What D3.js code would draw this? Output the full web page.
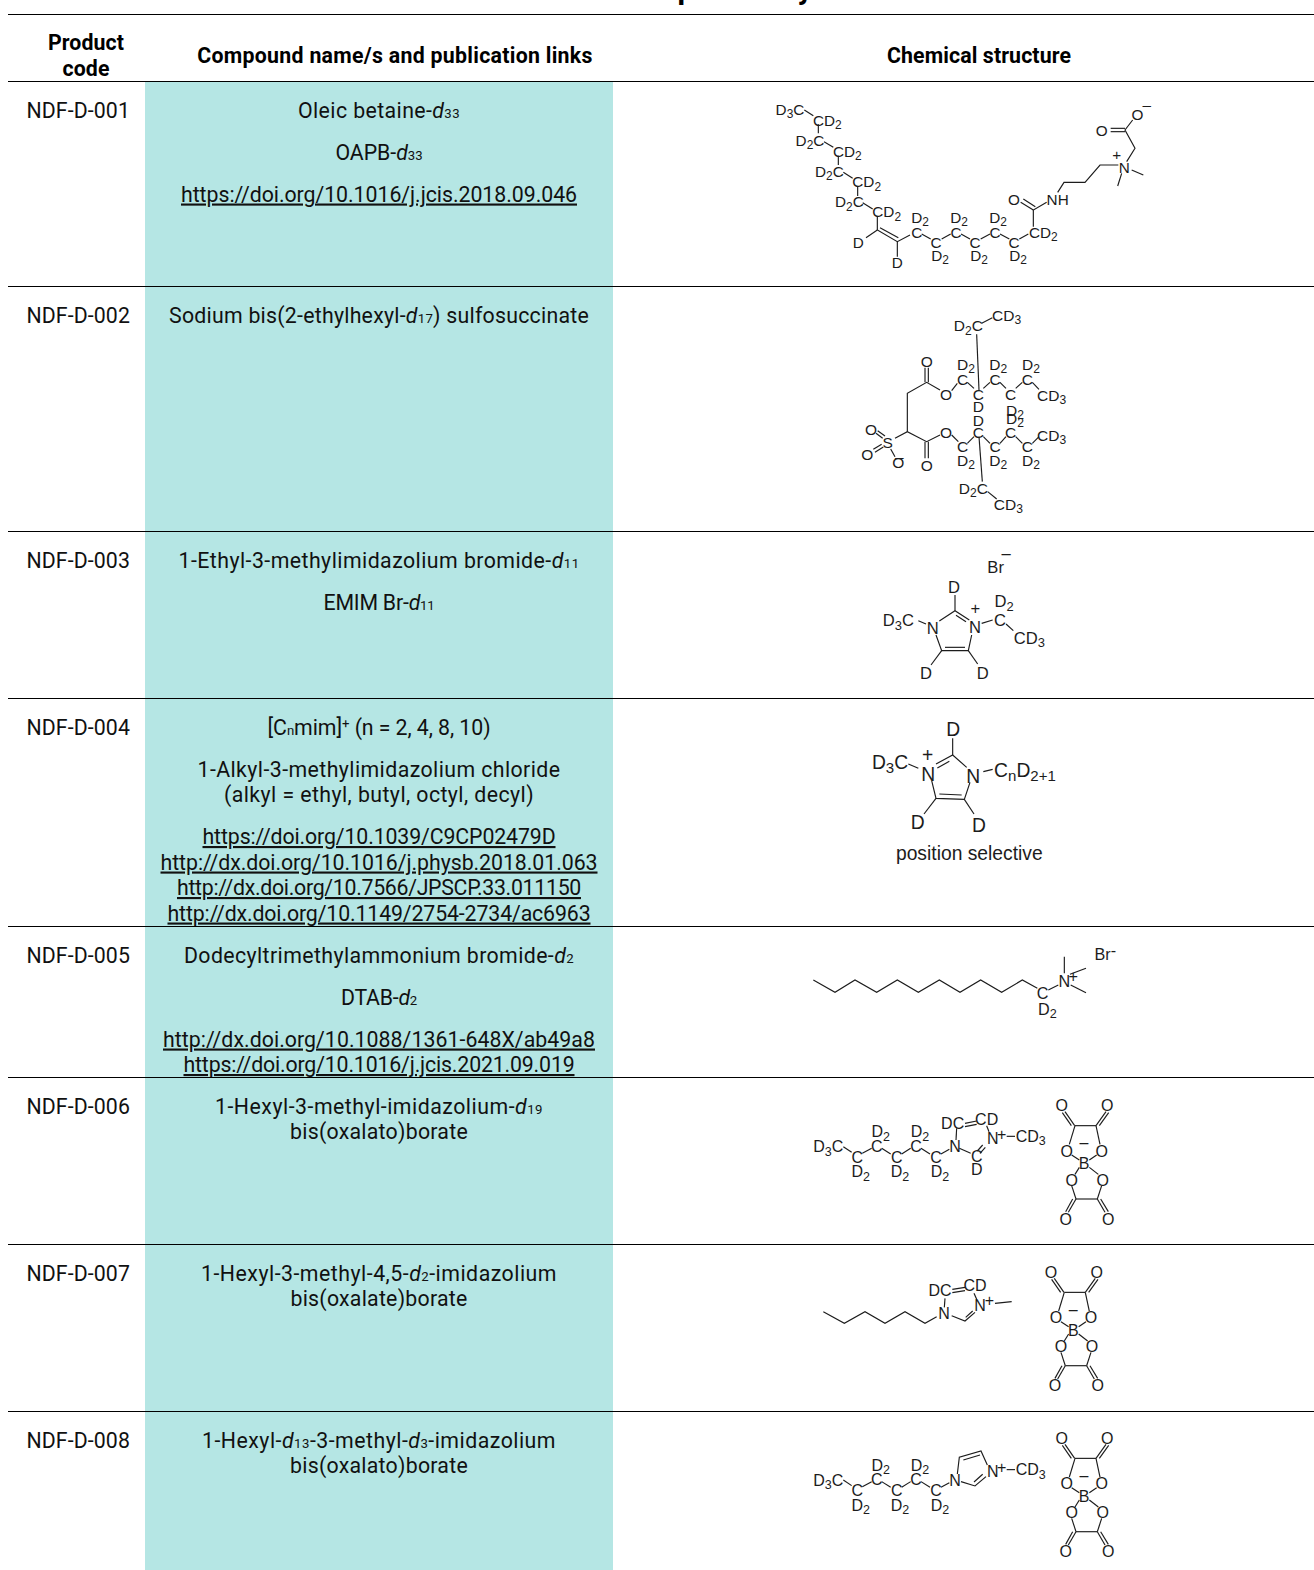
<!DOCTYPE html>
<html>
<head>
<meta charset="utf-8">
<script src="https://d3js.org/d3.v7.min.js"></script>
<style>
    body { margin: 0; background: #fff; }
    svg { display: block; }
    .cell { font-family: Roboto, sans-serif; font-size: 21.3px; fill: #111; }
    .head { font-family: Roboto, sans-serif; font-size: 21.3px; font-weight: 700; fill: #000; }
    .atom { font-family: "Liberation Sans", Arial, sans-serif; fill: #1c1c1c; }
    .bond { fill: none; stroke: #1c1c1c; stroke-width: 1.15; }
</style>
</head>
<body>
<div id="chart"></div>
<script>
// Self invoking function
(function() {

    // Table text. *x* = italic, ~x~ = subscript, ^x^ = superscript, _x_ = link
    var codes = ["NDF-D-001", "NDF-D-002", "NDF-D-003", "NDF-D-004", "NDF-D-005", "NDF-D-006", "NDF-D-007", "NDF-D-008"];

    // One list per row, each paragraph is a list of lines
    var names = [
        [["Oleic betaine-*d*~33~"], ["OAPB-*d*~33~"], ["_https://doi.org/10.1016/j.jcis.2018.09.046_"]],
        [["Sodium bis(2-ethylhexyl-*d*~17~) sulfosuccinate"]],
        [["1-Ethyl-3-methylimidazolium bromide-*d*~11~"], ["EMIM Br-*d*~11~"]],
        [["[C~n~mim]^+^ (n = 2, 4, 8, 10)"],
         ["1-Alkyl-3-methylimidazolium chloride", "(alkyl = ethyl, butyl, octyl, decyl)"],
         ["_https://doi.org/10.1039/C9CP02479D_", "_http://dx.doi.org/10.1016/j.physb.2018.01.063_", "_http://dx.doi.org/10.7566/JPSCP.33.011150_", "_http://dx.doi.org/10.1149/2754-2734/ac6963_"]],
        [["Dodecyltrimethylammonium bromide-*d*~2~"], ["DTAB-*d*~2~"],
         ["_http://dx.doi.org/10.1088/1361-648X/ab49a8_", "_https://doi.org/10.1016/j.jcis.2021.09.019_"]],
        [["1-Hexyl-3-methyl-imidazolium-*d*~19~", "bis(oxalato)borate"]],
        [["1-Hexyl-3-methyl-4,5-*d*~2~-imidazolium", "bis(oxalate)borate"]],
        [["1-Hexyl-*d*~13~-3-methyl-*d*~3~-imidazolium", "bis(oxalato)borate"]]
    ];

    // Width each of those lines takes on the page, same order
    var nameWidths = [
        [162, 87, 396], [420], [401, 111],
        [223, 363, 310, 353, 437, 404, 423],
        [390, 76, 432, 391], [328, 178], [356, 177], [354, 178]
    ];

    var headers = [["Product", "code"], ["Compound name/s and publication links"], ["Chemical structure"]];
    var headerWidths = [[76, 47], [395.5], [184]];

    // Row rules, top one first
    var rules = [14.5, 81.5, 286.5, 531.5, 698.5, 926.5, 1077.5, 1244.5, 1411.5];

    // Structures: bonds are point lists, labels are [text, x, y], both in drawing units
    var oleicBonds = [
        [[133,75],[160,92]], [[175,118],[175,145]], [[192,170],[220,187]], [[235,212],[235,240]],
        [[250,262],[278,280]], [[293,305],[293,333]], [[308,353],[338,372]], [[352,396],[352,435],[412,470],[450,450]],
        [[360,428],[415,458]], [[352,435],[318,458]], [[412,470],[412,515]],
        [[485,447],[512,462]], [[545,462],[572,447]], [[603,447],[630,462]], [[662,462],[690,447]],
        [[720,447],[748,462]], [[778,462],[805,447]], [[820,425],[820,375],[860,352]],
        [[820,375],[782,352]], [[826,365],[790,342]],
        [[893,322],[912,292],[975,292],[1020,240],[1075,240]],
        [[1100,230],[1125,190],[1095,135],[1118,105]], [[1095,130],[1052,130]], [[1095,140],[1052,140]],
        [[1115,255],[1150,270]], [[1085,265],[1073,303]]
    ];
    var oleicLabels = [
        ["D~3~C",90,72], ["CD~2~",202,105], ["D~2~C",150,165], ["CD~2~",262,198], ["D~2~C",208,258],
        ["CD~2~",320,290], ["D~2~C",268,350], ["CD~2~",380,380], ["D",295,473], ["D",412,533],
        ["D~2~",480,396], ["C",470,442], ["C",528,472], ["D~2~",540,510], ["D~2~",597,396], ["C",588,442],
        ["C",645,472], ["D~2~",657,510], ["D~2~",714,396], ["C",705,442], ["C",762,472], ["D~2~",774,510],
        ["CD~2~",850,442], ["O",762,343], ["NH",893,342], ["O",1025,135], ["O",1132,87], ["\u2013",1160,58],
        ["+",1070,208], ["N",1093,247]
    ];

    var aotBonds = [
        [[425,85],[457,68]], [[410,118],[417,285]], [[417,425],[427,560]], [[443,590],[470,612]],
        [[202,410],[202,295],[260,262],[300,285]], [[255,262],[255,218]], [[265,262],[265,218]],
        [[335,287],[352,265]], [[382,262],[402,280]], [[430,280],[450,262]], [[480,262],[498,280]],
        [[527,280],[547,262]], [[577,262],[597,283]],
        [[165,430],[202,410],[260,440],[300,420]], [[255,440],[255,490]], [[265,440],[265,490]],
        [[335,420],[355,440]], [[382,445],[402,425]], [[430,425],[450,445]], [[480,445],[498,425]],
        [[527,425],[547,445]], [[577,445],[597,425]],
        [[128,430],[108,415]], [[135,423],[113,407]], [[125,448],[100,463]], [[130,456],[105,472]], [[152,462],[165,485]]
    ];
    var aotLabels = [
        ["CD~3~",500,60], ["D~2~C",385,92], ["O",260,200], ["D~2~",378,207], ["D~2~",475,207], ["D~2~",573,207],
        ["C",368,253], ["C",465,253], ["C",562,253], ["O",318,297], ["C",415,297], ["C",512,297], ["CD~3~",635,300],
        ["D",415,335], ["D~2~",525,345], ["D~2~",525,370], ["D",415,375],
        ["O",318,412], ["C",415,412], ["C",512,412], ["CD~3~",635,420], ["C",368,455], ["C",465,455], ["C",562,455],
        ["D~2~",378,495], ["D~2~",475,495], ["D~2~",573,495], ["O",260,510], ["O",93,402], ["S",143,443],
        ["O",82,478], ["O",175,503], ["\u2013",178,484], ["D~2~C",400,580], ["CD~3~",505,628]
    ];

    var emimBonds = [
        [[315,165],[315,212]], [[268,243],[315,212],[358,240]], [[318,226],[348,245]], [[258,285],[275,332],[355,332],[365,285]],
        [[285,322],[345,322]], [[205,242],[228,252]], [[395,250],[428,240]], [[468,252],[490,272]],
        [[275,332],[243,375]], [[355,332],[383,372]]
    ];
    var emimLabels = [
        ["Br",437,82], ["\u2013",468,38], ["D",312,142], ["D~2~",462,183], ["+",376,205], ["D~3~C",145,240],
        ["N",248,265], ["N",375,262], ["C",450,240], ["CD~3~",538,293], ["D",228,398], ["D",398,398]
    ];

    var cnmimBonds = [
        [[308,595],[308,645]], [[258,672],[308,645],[350,682]], [[262,684],[298,664]], [[245,722],[258,775],[343,778],[360,727]],
        [[268,762],[335,765]], [[175,672],[205,685]], [[400,695],[428,688]], [[258,775],[222,822]], [[343,778],[372,822]]
    ];
    var cnmimLabels = [
        ["D",310,568], ["+",233,645], ["D~3~C",120,665], ["N",235,702], ["N",370,708], ["C~n~D~2+1~",525,690],
        ["D",203,845], ["D",387,855], ["position selective",358,940]
    ];

    var dtabBonds = [
        [[40,135],[105,172],[165,135],[230,172],[292,135],[355,172],[418,135],[480,172],[542,135],[605,172],[667,135],[712,160]],
        [[745,165],[775,150]], [[793,65],[793,115]], [[810,118],[858,100]], [[812,150],[858,173]]
    ];
    var dtabLabels = [["C",728,175], ["D~2~",742,222], ["N",793,140], ["+",820,123], ["Br",908,58], ["-",940,45]];

    // Deuterated hexyl chain, shared by NDF-D-006 and NDF-D-008
    var hexylBonds = [
        [[130,635],[155,652]], [[187,655],[215,640]], [[245,640],[272,657]], [[305,657],[332,640]],
        [[363,640],[390,657]], [[423,657],[448,643]]
    ];
    var hexylLabels = [
        ["D~3~C",85,635], ["D~2~",242,590], ["C",230,633], ["C",172,667], ["D~2~",182,710], ["C",290,667],
        ["D~2~",300,710], ["D~2~",360,590], ["C",348,633], ["C",408,667], ["D~2~",420,710], ["N",465,635],
        ["N",578,610], ["+",605,598], ["CD~3~",692,603]
    ];

    var ringD3Bonds = [
        [[478,640],[512,655]], [[470,580],[468,615]], [[495,565],[530,558]], [[495,575],[530,568]], [[560,572],[567,590]],
        [[548,630],[532,648]], [[556,637],[540,655]], [[620,604],[645,604]]
    ];
    var ringD3Labels = [["DC",458,565], ["CD",560,552], ["C",530,663], ["D",530,703]];

    var ringBonds = [
        [[472,617],[478,567],[543,548],[562,590]], [[490,575],[540,560]], [[558,625],[525,653],[483,640]],
        [[548,618],[522,641]], [[620,604],[645,604]]
    ];

    var hexBonds = [
        [[70,185],[133,220],[195,185],[255,220],[315,185],[375,220],[410,200]], [[455,197],[495,213],[525,187]], [[497,202],[518,183]],
        [[435,145],[433,172]], [[457,118],[495,112]], [[457,128],[495,122]], [[522,130],[530,148]], [[585,160],[635,155]]
    ];
    var hexLabels = [["N",432,190], ["DC",420,122], ["CD",525,107], ["N",540,167], ["+",568,152]];

    var borateBonds = [
        [[825,572],[888,572]], [[824,572],[795,530]], [[814,572],[787,533]], [[888,572],[918,530]], [[898,572],[926,533]],
        [[825,572],[808,628]], [[888,572],[900,628]], [[815,660],[838,675]], [[890,660],[868,675]],
        [[838,697],[825,718]], [[868,697],[895,718]], [[815,752],[828,792]], [[905,752],[892,792]], [[828,792],[892,792]],
        [[828,792],[805,832]], [[818,792],[797,830]], [[892,792],[915,832]], [[902,792],[925,830]]
    ];
    var borateLabels = [
        ["O",785,512], ["O",922,512], ["O",800,648], ["O",905,648], ["\u2013",852,622], ["B",852,685],
        ["O",815,735], ["O",908,735], ["O",797,852], ["O",925,852]
    ];

    // Where each drawing goes on the page: [bonds, labels, left, top, font size]
    var drawings = [
        [oleicBonds, oleicLabels, 760, 85, 15.3],
        [aotBonds, aotLabels, 840, 295, 15.5],
        [emimBonds, emimLabels, 850, 540, 16.6],
        [cnmimBonds, cnmimLabels, 850, 540, 19.3],
        [dtabBonds, dtabLabels, 800, 935, 16.2],
        [hexylBonds.concat(ringD3Bonds), hexylLabels.concat(ringD3Labels), 800, 935, 16],
        [borateBonds, borateLabels, 800, 935, 16],
        [hexBonds, hexLabels, 800, 1250, 16],
        [borateBonds, borateLabels, 789.3, 1101.7, 16],
        [hexylBonds.concat(ringBonds), hexylLabels, 800, 1268.3, 16],
        [borateBonds, borateLabels, 800, 1267.7, 16]
    ];

    // Set dimensions
    var width = 1314,
        height = 1570,
        lineGap = 25.5,
        paraGap = 41.8,
        firstLine = 36.4;

    // Columns
    var tableLeft = 8,
        teal = [145, 613],
        codeLeft = 26.5,
        codeWidth = 103.5,
        headerCenters = [86, 395, 979];

    // Create svg
    var svg = d3.select("#chart")
        .append("svg")
        .attr("height", height)
        .attr("width", width);

    // Teal column, sits under the rules
    svg.append("rect")
        .attr("x", teal[0])
        .attr("y", rules[1])
        .attr("width", teal[1] - teal[0])
        .attr("height", height - rules[1])
        .attr("fill", "#b5e6e4");

    // Rules
    svg.selectAll(".rule")
        .data(rules)
        .enter()
        .append("line")
        .attr("class", "rule")
        .attr("x1", tableLeft)
        .attr("x2", width)
        .attr("y1", function(d) { return d; })
        .attr("y2", function(d) { return d; })
        .attr("stroke", "#000")
        .attr("stroke-width", 1.2);

    // Write marked up text into a text element as tspans
    function rich(sel, str, subSize, subShift) {
        var parts = str.split(/(\*[^*]+\*|~[^~]+~|\^[^^]+\^|_[^_]+_)/).filter(function(s) { return s !== ""; });
        var shift = 0;
        parts.forEach(function(p) {
            var mark = p[0], body = p.slice(1, -1);
            var t = sel.append("tspan");
            var next = 0;
            if (mark == "*") {
                t.text(body).attr("font-style", "italic");
            } else if (mark == "~") {
                t.text(body).attr("font-size", subSize + "em");
                next = subShift;
            } else if (mark == "^") {
                t.text(body).attr("font-size", subSize + "em");
                next = -subShift * 14;
            } else if (mark == "_") {
                t.text(body).attr("text-decoration", "underline");
            } else {
                t.text(p);
            }
            t.attr("dy", next - shift);
            shift = next;
        });
    }

    // Roboto runs a bit narrower than the table's font, so open up the letters to fill the width
    function fit(sel, target) {
        var node = sel.node();
        var chars = node.getNumberOfChars();
        sel.style("letter-spacing", (target - node.getComputedTextLength()) / chars + "px");
    }

    // Header
    var headerBaselines = [[50, 75.5], [62.7], [62.7]];
    headers.forEach(function(lines, i) {
        lines.forEach(function(line, j) {
            var t = svg.append("text")
                .attr("class", "head")
                .attr("x", headerCenters[i])
                .attr("y", headerBaselines[i][j])
                .attr("text-anchor", "middle")
                .text(line);
            fit(t, headerWidths[i][j]);
        });
    });

    // Body rows
    codes.forEach(function(code, i) {
        var top = rules[i + 1];
        var c = svg.append("text")
            .attr("class", "cell")
            .attr("x", codeLeft)
            .attr("y", top + firstLine)
            .text(code);
        fit(c, codeWidth);

        var y = top + firstLine;
        var n = 0;
        names[i].forEach(function(para, p) {
            if (p > 0) y += paraGap - lineGap;
            para.forEach(function(line) {
                var t = svg.append("text")
                    .attr("class", "cell")
                    .attr("x", (teal[0] + teal[1]) / 2)
                    .attr("y", y)
                    .attr("text-anchor", "middle");
                rich(t, line, 0.62, 0.5);
                fit(t, nameWidths[i][n]);
                n += 1;
                y += lineGap;
            });
        });
    });

    // Chemical structures, every drawing unit is a third of a pixel
    var drawn = d3.line();
    drawings.forEach(function(d) {
        var x = d3.scaleLinear().domain([0, 3]).range([d[2], d[2] + 1]);
        var y = d3.scaleLinear().domain([0, 3]).range([d[3], d[3] + 1]);
        var g = svg.append("g");
        drawn.x(function(p) { return x(p[0]); }).y(function(p) { return y(p[1]); });

        g.selectAll(".bond")
            .data(d[0])
            .enter()
            .append("path")
            .attr("class", "bond")
            .attr("d", drawn);

        d[1].forEach(function(a) {
            var size = d[4];
            var t = g.append("text")
                .attr("class", "atom")
                .attr("x", x(a[1]))
                .attr("y", y(a[2]) + size * 0.36)
                .attr("font-size", size)
                .attr("text-anchor", "middle");
            rich(t, a[0], 0.78, size * 0.22);
        });
    });

    // Only the descenders of the title are left above the top rule
    var titleBits = [["p", 686], ["y", 805]];
    svg.selectAll(".title-bit")
        .data(titleBits)
        .enter()
        .append("text")
        .attr("class", "head title-bit")
        .attr("x", function(d) { return d[1]; })
        .attr("y", -1)
        .attr("text-anchor", "middle")
        .style("font-size", "30px")
        .text(function(d) { return d[0]; });
}());
</script>
</body>
</html>
